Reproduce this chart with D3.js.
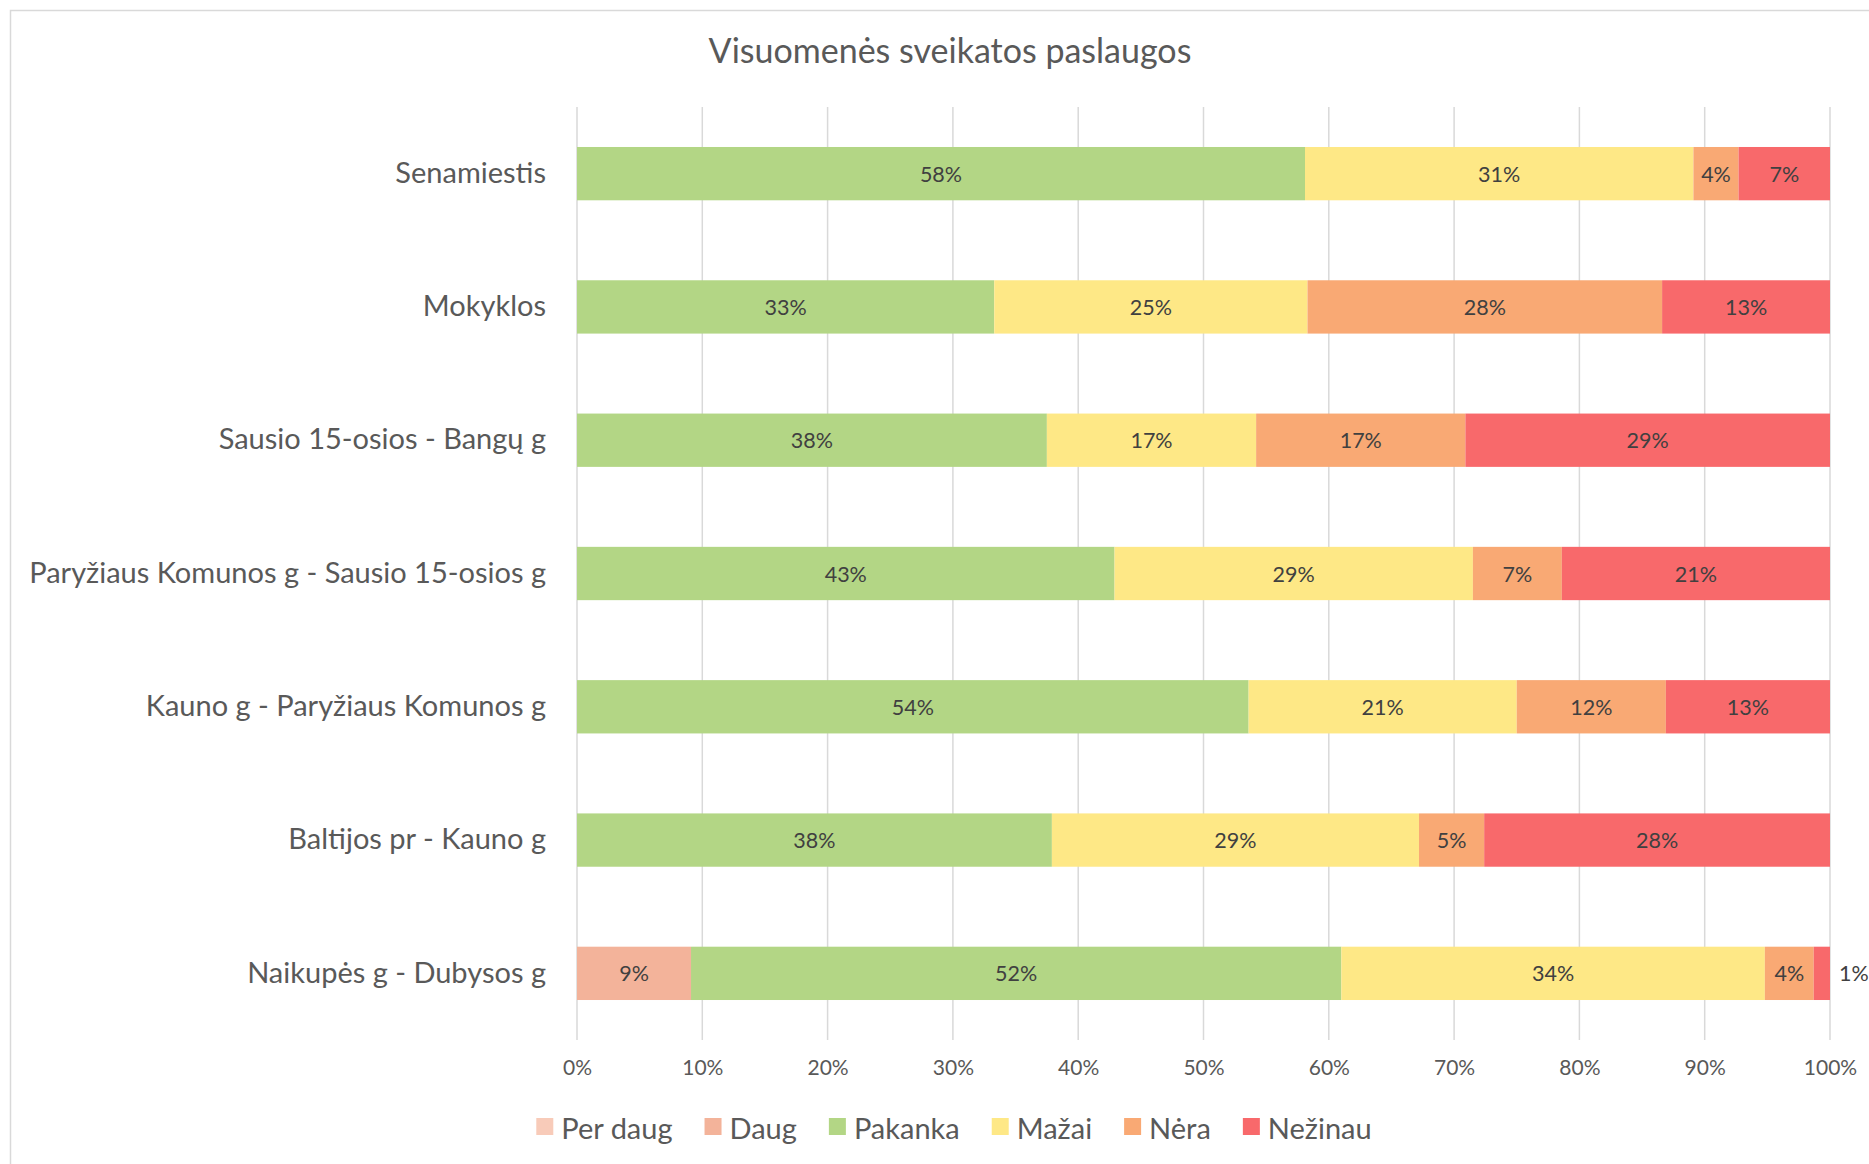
<!DOCTYPE html>
<html lang="lt">
<head>
<meta charset="utf-8">
<title>Visuomenės sveikatos paslaugos</title>
<script src="https://d3js.org/d3.v7.min.js"></script>
<style>
  body { margin: 0; background: #fff; }
  svg text { font-family: Lato, "Open Sans", sans-serif; }
</style>
</head>
<body>
<svg width="1869" height="1164"></svg>
<script>
// categories, top to bottom
var categories = [
  "Senamiestis",
  "Mokyklos",
  "Sausio 15-osios - Bangų g",
  "Paryžiaus Komunos g - Sausio 15-osios g",
  "Kauno g - Paryžiaus Komunos g",
  "Baltijos pr - Kauno g",
  "Naikupės g - Dubysos g"
];

var seriesNames = ["Per daug", "Daug", "Pakanka", "Mažai", "Nėra", "Nežinau"];
var seriesColors = ["#F8CBB9", "#F3B39A", "#B3D685", "#FEE886", "#F9A974", "#F8696B"];

// percent of answers
var perDaug = [0, 0, 0, 0, 0, 0, 0];
var daug    = [0, 0, 0, 0, 0, 0, 9.1];
var pakanka = [58.1, 33.3, 37.5, 42.9, 53.6, 37.9, 51.9];
var mazai   = [31.0, 25.0, 16.7, 28.6, 21.4, 29.3, 33.8];
var nera    = [3.6, 28.3, 16.7, 7.1, 11.9, 5.2, 3.9];
var nezinau = [7.3, 13.4, 29.1, 21.4, 13.1, 27.6, 1.3];

var xTicks = [0, 10, 20, 30, 40, 50, 60, 70, 80, 90, 100];

var seriesValues = [perDaug, daug, pakanka, mazai, nera, nezinau];
var rows = categories.map(function(c, i) {
  var r = { cat: c };
  seriesNames.forEach(function(s, j) { r[s] = seriesValues[j][i]; });
  return r;
});

var svg = d3.select("svg");

var plot = { left: 577, right: 1830, top: 107, bottom: 1040 };

// chart frame (cut off at right and bottom like the source)
svg.append("rect")
  .attr("x", 10.5).attr("y", 10.5)
  .attr("width", 1900).attr("height", 1200)
  .attr("fill", "none").attr("stroke", "#D9D9D9").attr("stroke-width", 1.5);

var x = d3.scaleLinear().domain([0, 100]).range([plot.left, plot.right]);
var y = d3.scaleBand().domain(categories).range([plot.top, plot.bottom]).paddingInner(0.6).paddingOuter(0.3);

// title
svg.append("text")
  .attr("x", 950).attr("y", 54)
  .attr("text-anchor", "middle").attr("dominant-baseline", "middle")
  .attr("fill", "#595959").attr("font-size", 34)
  .text("Visuomenės sveikatos paslaugos");

// gridlines
svg.append("g").selectAll("line")
  .data(xTicks).enter().append("line")
  .attr("x1", function(d) { return x(d); })
  .attr("x2", function(d) { return x(d); })
  .attr("y1", plot.top).attr("y2", plot.bottom)
  .attr("stroke", "#D9D9D9").attr("stroke-width", 1.5);

// x axis labels
var xAxis = d3.axisBottom(x).tickValues(xTicks)
  .tickFormat(function(d) { return d + "%"; })
  .tickSize(0).tickPadding(20);
var gx = svg.append("g").attr("transform", "translate(0," + plot.bottom + ")").call(xAxis);
gx.select(".domain").remove();
gx.selectAll("text").attr("fill", "#595959").attr("font-size", 21)
  .style("font-family", "Lato, 'Open Sans', sans-serif");

// y axis labels
var yAxis = d3.axisLeft(y).tickSize(0).tickPadding(31);
var gy = svg.append("g").attr("transform", "translate(" + plot.left + ",0)").call(yAxis);
gy.select(".domain").remove();
gy.selectAll("text").attr("fill", "#595959").attr("font-size", 29)
  .style("font-family", "Lato, 'Open Sans', sans-serif");

// stacked bars
var stack = d3.stack().keys(seriesNames);
var layers = stack(rows);

var layer = svg.append("g").selectAll("g")
  .data(layers).enter().append("g")
  .attr("fill", function(d, i) { return seriesColors[i]; });

layer.selectAll("rect")
  .data(function(d) { return d.filter(function(p) { return p[1] - p[0] > 0; }); })
  .enter().append("rect")
  .attr("x", function(p) { return x(p[0]); })
  .attr("y", function(p) { return y(p.data.cat); })
  .attr("width", function(p) { return x(p[1]) - x(p[0]); })
  .attr("height", y.bandwidth());

// data labels
layer.selectAll("text")
  .data(function(d) { return d.filter(function(p) { return p[1] - p[0] > 0; }); })
  .enter().append("text")
  .attr("x", function(p) {
    var w = x(p[1]) - x(p[0]);
    return w < 26 ? x(p[1]) + 9 : (x(p[0]) + x(p[1])) / 2;
  })
  .attr("y", function(p) { return y(p.data.cat) + y.bandwidth() / 2; })
  .attr("text-anchor", function(p) { return x(p[1]) - x(p[0]) < 26 ? "start" : "middle"; })
  .attr("dominant-baseline", "central")
  .attr("fill", "#404040").attr("font-size", 21.5)
  .text(function(p) { return Math.round(p[1] - p[0]) + "%"; });

// legend
var legend = svg.append("g");
var lx = 0;
seriesNames.forEach(function(s, i) {
  var item = legend.append("g").attr("transform", "translate(" + lx + ",0)");
  item.append("rect").attr("x", 0).attr("y", -9).attr("width", 17).attr("height", 17)
    .attr("fill", seriesColors[i]);
  var t = item.append("text").attr("x", 25).attr("y", 0)
    .attr("dominant-baseline", "central")
    .attr("fill", "#595959").attr("font-size", 29).text(s);
  lx += 25 + t.node().getComputedTextLength() + 32;
});
var legendWidth = lx - 32;
legend.attr("transform", "translate(" + (954 - legendWidth / 2) + ",1127)");
</script>
</body>
</html>
